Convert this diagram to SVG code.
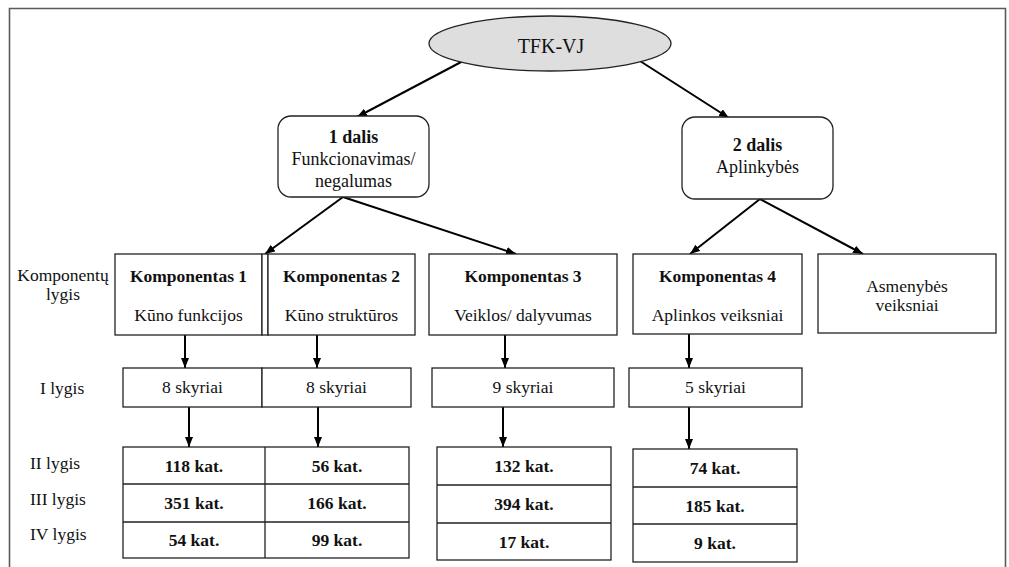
<svg xmlns="http://www.w3.org/2000/svg" width="1009" height="567" viewBox="0 0 1009 567" font-family="'Liberation Serif', 'DejaVu Serif', 'Times New Roman', serif">
<style>
text{font-family:"Liberation Serif","DejaVu Serif","Times New Roman",serif;font-size:17.5px;fill:#111;}
.b{font-weight:bold;}
.c{text-anchor:middle;}
.box{fill:#fff;stroke:#222;stroke-width:1.3;}
.ln{stroke:#222;stroke-width:1.3;fill:none;}
.arr{stroke:#000;stroke-width:2;fill:none;marker-end:url(#ah);}
</style>
<defs>
<marker id="ah" markerUnits="userSpaceOnUse" markerWidth="10" markerHeight="8" refX="10" refY="4" orient="auto">
<path d="M0,0 L10,4 L0,8 z" fill="#000"/>
</marker>
</defs>
<rect x="0" y="0" width="1009" height="567" fill="#fff"/>
<path d="M9.5,600 V8.5 H1005.5 V600" fill="none" stroke="#5a5a5a" stroke-width="1.6"/>

<g id="connectors">
<line class="arr" x1="463" y1="61" x2="357" y2="117"/>
<line class="arr" x1="640" y1="61" x2="729" y2="118"/>
<line class="arr" x1="343" y1="197" x2="265" y2="254"/>
<line class="arr" x1="343" y1="197" x2="516" y2="254"/>
<line class="arr" x1="760" y1="199" x2="690" y2="254"/>
<line class="arr" x1="760" y1="199" x2="863" y2="254"/>
<line class="arr" x1="185" y1="335" x2="185" y2="368"/>
<line class="arr" x1="317" y1="335" x2="317" y2="368"/>
<line class="arr" x1="505" y1="335" x2="505" y2="368"/>
<line class="arr" x1="689" y1="334" x2="689" y2="368"/>
<line class="arr" x1="189" y1="407" x2="189" y2="447"/>
<line class="arr" x1="318" y1="407" x2="318" y2="447"/>
<line class="arr" x1="503" y1="407" x2="503" y2="447"/>
<line class="arr" x1="689" y1="407" x2="689" y2="449"/>
</g>

<g id="root">
<ellipse cx="550" cy="43.5" rx="121" ry="27.5" fill="#dedede" stroke="#222" stroke-width="1.3"/>
<text class="c" x="551" y="53" style="font-size:20px">TFK-VJ</text>
</g>

<g id="dalis1">
<rect class="box" x="278" y="116" width="151" height="81" rx="13"/>
<text class="c b" x="353.5" y="143" style="font-size:18px">1 dalis</text>
<text class="c" x="353.5" y="165" style="font-size:18px">Funkcionavimas/</text>
<text class="c" x="353.5" y="187" style="font-size:18px">negalumas</text>
</g>

<g id="dalis2">
<rect class="box" x="682" y="117" width="151" height="82" rx="13"/>
<text class="c b" x="757.5" y="151" style="font-size:18px">2 dalis</text>
<text class="c" x="757.5" y="173" style="font-size:18px">Aplinkybės</text>
</g>

<g id="labels">
<text class="c" x="63" y="281">Komponentų</text>
<text class="c" x="63" y="300">lygis</text>
<text x="40" y="394">I lygis</text>
<text x="30" y="469">II lygis</text>
<text x="30" y="505">III lygis</text>
<text x="30" y="540">IV lygis</text>
</g>

<g id="komp1">
<rect class="box" x="115" y="254" width="147" height="81"/>
<text class="c b" x="188.5" y="282">Komponentas 1</text>
<text class="c" x="188.5" y="321">Kūno funkcijos</text>
</g>
<g id="komp2">
<rect class="box" x="262" y="254" width="6" height="81"/>
<rect class="box" x="268" y="254" width="147" height="81"/>
<text class="c b" x="341.5" y="282">Komponentas 2</text>
<text class="c" x="341.5" y="321">Kūno struktūros</text>
</g>
<g id="komp3">
<rect class="box" x="429" y="254" width="188" height="81"/>
<text class="c b" x="523" y="282">Komponentas 3</text>
<text class="c" x="523" y="321">Veiklos/ dalyvumas</text>
</g>
<g id="komp4">
<rect class="box" x="633" y="254" width="169" height="80"/>
<text class="c b" x="717.5" y="282">Komponentas 4</text>
<text class="c" x="717.5" y="321">Aplinkos veiksniai</text>
</g>
<g id="asmenybes">
<rect class="box" x="818" y="254" width="178" height="79"/>
<text class="c" x="907" y="292">Asmenybės</text>
<text class="c" x="907" y="311">veiksniai</text>
</g>

<g id="skyriai1">
<rect class="box" x="123" y="368" width="139" height="39"/>
<text class="c" x="192.5" y="393">8 skyriai</text>
</g>
<g id="skyriai2">
<rect class="box" x="262" y="368" width="149" height="39"/>
<text class="c" x="336.5" y="393">8 skyriai</text>
</g>
<g id="skyriai3">
<rect class="box" x="432" y="368" width="182" height="39"/>
<text class="c" x="523" y="393">9 skyriai</text>
</g>
<g id="skyriai4">
<rect class="box" x="629" y="368" width="173" height="39"/>
<text class="c" x="715.5" y="393">5 skyriai</text>
</g>

<g id="kat12">
<rect class="box" x="123" y="447" width="286" height="111"/>
<path class="ln" d="M123,484 H409 M123,522 H409 M265,447 V558"/>
<text class="c b" x="194" y="472">118 kat.</text>
<text class="c b" x="337" y="472">56 kat.</text>
<text class="c b" x="194" y="509">351 kat.</text>
<text class="c b" x="337" y="509">166 kat.</text>
<text class="c b" x="194" y="546">54 kat.</text>
<text class="c b" x="337" y="546">99 kat.</text>
</g>
<g id="kat3">
<rect class="box" x="437" y="447" width="174" height="113"/>
<path class="ln" d="M437,485 H611 M437,523 H611"/>
<text class="c b" x="524" y="472">132 kat.</text>
<text class="c b" x="524" y="510">394 kat.</text>
<text class="c b" x="524" y="548">17 kat.</text>
</g>
<g id="kat4">
<rect class="box" x="633" y="449" width="164" height="113"/>
<path class="ln" d="M633,487 H797 M633,524 H797"/>
<text class="c b" x="715" y="474">74 kat.</text>
<text class="c b" x="715" y="512">185 kat.</text>
<text class="c b" x="715" y="549">9 kat.</text>
</g>
</svg>
